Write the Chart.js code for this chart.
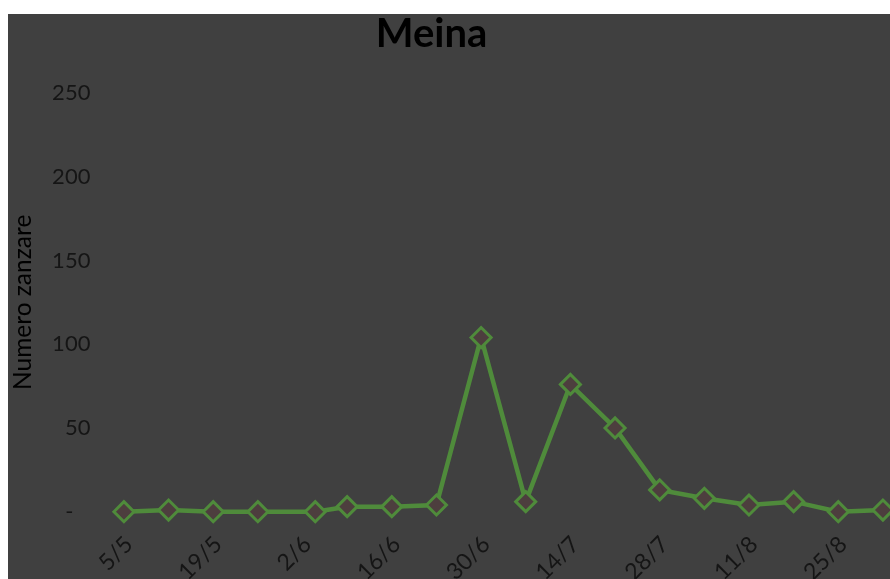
<!DOCTYPE html>
<html>
<head>
<meta charset="utf-8">
<script src="https://cdn.jsdelivr.net/npm/chart.js@4/dist/chart.umd.min.js"></script>
<style>
  html, body { margin: 0; padding: 0; background: #ffffff; overflow: hidden; width: 890px; height: 579px; }
  #frame { position: absolute; left: 8px; top: 14px; width: 960px; height: 680px; background: #404040; }
  canvas { display: block; }
</style>
</head>
<body>
<div id="frame"><canvas id="c" width="960" height="680"></canvas></div>
<script>
// Sampling dates (day/month) and mosquito counts for Meina
const sampleDates = ['5/5','12/5','19/5','26/5','4/6','9/6','16/6','23/6','30/6','7/7','14/7','21/7','28/7','4/8','11/8','18/8','25/8','1/9'];
const mosquitoCounts = [0, 1, 0, 0, 0, 3, 3, 4, 104, 6, 76, 50, 13, 8, 4, 6, 0, 1];
// Dates labelled on the horizontal axis (every two weeks)
const axisDates = ['5/5','19/5','2/6','16/6','30/6','14/7','28/7','11/8','25/8'];
const yTickValues = [0, 50, 100, 150, 200, 250];

// day offset from the first sample
function dayOf(s) {
  const [d, m] = s.split('/').map(Number);
  return Date.UTC(2011, m - 1, d) / 86400000;
}
const day0 = dayOf(sampleDates[0]);
const toOffset = s => dayOf(s) - day0;
const labelByOffset = {};
axisDates.forEach(s => { labelByOffset[toOffset(s)] = s; });

const points = sampleDates.map((s, i) => ({ x: toOffset(s), y: mosquitoCounts[i] }));

const FONT = 'Lato';
const TEXT = '#151515';

// centre the title over the left part of the frame
const titlePlacement = {
  id: 'titlePlacement',
  afterLayout(chart) {
    if (chart.titleBlock) {
      chart.titleBlock.left = 0;
      chart.titleBlock.right = 847;
    }
  }
};

new Chart(document.getElementById('c'), {
  type: 'line',
  data: {
    datasets: [{
      label: 'Meina',
      data: points,
      clip: false,
      borderColor: '#4f8b3b',
      borderWidth: 4.5,
      pointStyle: 'rectRot',
      pointRadius: 10,
      pointBorderWidth: 3,
      pointBorderColor: '#4f8b3b',
      pointBackgroundColor: '#4d3e3e',
      tension: 0
    }]
  },
  plugins: [titlePlacement],
  options: {
    responsive: false,
    animation: false,
    devicePixelRatio: 1,
    layout: { padding: 0 },
    plugins: {
      legend: { display: false },
      tooltip: { enabled: false },
      title: {
        display: true,
        text: 'Meina',
        color: '#000000',
        font: { family: FONT, size: 40, weight: 'bold', lineHeight: 1 },
        padding: { top: 0, bottom: 39 }
      }
    },
    scales: {
      x: {
        type: 'linear',
        min: -4,
        max: 130.3,
        grid: { display: false, drawTicks: false },
        border: { display: false },
        afterBuildTicks: s => { s.ticks = axisDates.map(d => ({ value: toOffset(d) })); },
        afterFit: s => { s.height = 182.3; },
        ticks: {
          autoSkip: false,
          maxRotation: 45,
          minRotation: 45,
          padding: 19,
          labelOffset: 5,
          color: TEXT,
          font: { family: FONT, size: 23 },
          callback: v => labelByOffset[v] || ''
        }
      },
      y: {
        min: 0,
        max: 250,
        grid: { display: false, drawTicks: false },
        border: { display: false },
        afterBuildTicks: s => { s.ticks = yTickValues.map(v => ({ value: v })); },
        afterFit: s => { s.width = 90.4; },
        title: {
          display: true,
          text: 'Numero zanzare',
          color: '#000000',
          font: { family: FONT, size: 24.5 },
          padding: 0
        },
        ticks: {
          padding: 8,
          color: TEXT,
          font: { family: FONT, size: 22 },
          callback: v => v === 0 ? '-   ' : String(v)
        }
      }
    }
  }
});
</script>
</body>
</html>
